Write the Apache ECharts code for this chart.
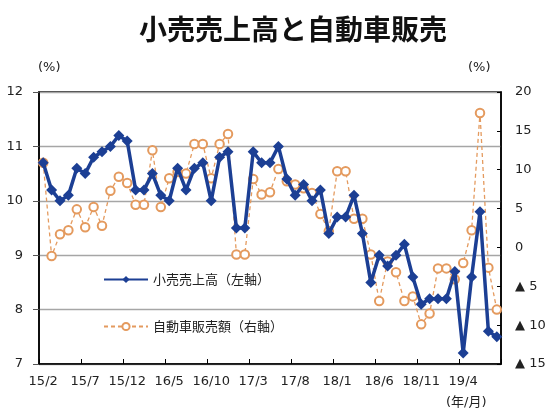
<!DOCTYPE html>
<html>
<head>
<meta charset="utf-8">
<script src="https://cdn.jsdelivr.net/npm/echarts@6/dist/echarts.min.js"></script>
<style>html,body{margin:0;padding:0;background:#fff;}#c{width:550px;height:414px;}</style>
</head>
<body>
<div id="c"></div>
<script>
const categories = [
  '15/2','15/3','15/4','15/5','15/6','15/7','15/8','15/9','15/10','15/11','15/12',
  '16/1','16/2','16/3','16/4','16/5','16/6','16/7','16/8','16/9','16/10','16/11','16/12',
  '17/1','17/2','17/3','17/4','17/5','17/6','17/7','17/8','17/9','17/10','17/11','17/12',
  '18/1','18/2','18/3','18/4','18/5','18/6','18/7','18/8','18/9','18/10','18/11','18/12',
  '19/1','19/2','19/3','19/4','19/5','19/6','19/7','19/8'
];
const retailSales = [
  10.7,10.2,10.0,10.1,10.6,10.5,10.8,10.9,11.0,11.2,11.1,
  10.2,10.2,10.5,10.1,10.0,10.6,10.2,10.6,10.7,10.0,10.8,10.9,
  9.5,9.5,10.9,10.7,10.7,11.0,10.4,10.1,10.3,10.0,10.2,9.4,
  9.7,9.7,10.1,9.4,8.5,9.0,8.8,9.0,9.2,8.6,8.1,8.2,
  8.2,8.2,8.7,7.2,8.6,9.8,7.6,7.5
];
const autoSales = [
  10.9,-1.1,1.7,2.2,4.9,2.6,5.2,2.8,7.3,9.1,8.3,
  5.5,5.5,12.5,5.2,8.9,9.7,9.5,13.3,13.3,8.9,13.3,14.6,
  -0.9,-0.9,8.8,6.8,7.1,10.1,8.5,8.1,7.6,7.0,4.3,2.1,
  9.8,9.8,3.7,3.7,-0.9,-6.9,-1.8,-3.2,-6.9,-6.3,-9.9,-8.5,
  -2.7,-2.7,-4.1,-2.0,2.2,17.3,-2.6,-8.0
];
const titleText = '小売売上高と自動車販売';
const seriesNames = ['小売売上高（左軸）', '自動車販売額（右軸）'];

const blue = '#1C3F94';
const orange = '#E49A5E';
const numFont = 'DejaVu Sans';
const cjkFont = 'Noto Sans CJK JP';

const chart = echarts.init(document.getElementById('c'), null, {renderer: 'canvas'});
chart.setOption({
  animation: false,
  backgroundColor: '#fff',
  title: {
    text: titleText,
    left: 134, top: 10,
    textStyle: {fontSize: 28, fontWeight: 'bold', fontFamily: cjkFont, color: '#111'}
  },
  graphic: [
    {type: 'text', left: 38, top: 61, style: {text: '(%)', font: '13px "DejaVu Sans"', fill: '#222'}},
    {type: 'text', left: 468, top: 61, style: {text: '(%)', font: '13px "DejaVu Sans"', fill: '#222'}},
    {type: 'text', left: 446, top: 396, style: {text: '(年/月)', font: '13px "DejaVu Sans", "Noto Sans CJK JP"', fill: '#222'}}
  ],
  legend: {
    orient: 'vertical',
    left: 98, top: 268,
    itemWidth: 44, itemHeight: 9, itemGap: 34,
    textStyle: {fontSize: 13, fontFamily: cjkFont, color: '#222'},
    data: seriesNames
  },
  grid: {left: 39, right: 49, top: 92, height: 272, show: true, borderColor: '#000', borderWidth: 1.5, backgroundColor: 'transparent'},
  xAxis: {
    type: 'category',
    data: categories,
    boundaryGap: true,
    axisLine: {onZero: false, lineStyle: {color: '#000', width: 1.5}},
    axisTick: {show: true, interval: 4, inside: true, length: 5, lineStyle: {color: '#000'}},
    axisLabel: {interval: 4, fontSize: 13, fontFamily: numFont, color: '#222', margin: 11}
  },
  yAxis: [
    {
      type: 'value', min: 7, max: 12, interval: 1, position: 'left',
      axisLine: {show: true, lineStyle: {color: '#000', width: 1.5}},
      axisTick: {show: true, length: 6, lineStyle: {color: '#555'}},
      axisLabel: {fontSize: 13, fontFamily: numFont, color: '#222', margin: 16},
      splitLine: {show: true, lineStyle: {color: '#A6A6A6', width: 1.3}}
    },
    {
      type: 'value', min: -15, max: 20, interval: 5, position: 'right',
      axisLine: {show: true, lineStyle: {color: '#000', width: 1.5}},
      axisTick: {show: true, inside: true, length: 4, lineStyle: {color: '#000'}},
      axisLabel: {
        fontSize: 13, fontFamily: numFont, color: '#222', margin: 14,
        formatter: v => v < 0 ? '▲ ' + Math.abs(v) : String(v)
      },
      splitLine: {show: false}
    }
  ],
  series: [
    {
      name: seriesNames[1], type: 'line', yAxisIndex: 1, data: autoSales,
      symbol: 'emptyCircle', symbolSize: 8.5, showAllSymbol: true,
      lineStyle: {color: orange, width: 1.3, type: [4, 3]},
      itemStyle: {color: orange, borderWidth: 0.9},
      z: 2
    },
    {
      name: seriesNames[0], type: 'line', yAxisIndex: 0, data: retailSales,
      symbol: 'diamond', symbolSize: 11, showAllSymbol: true,
      lineStyle: {color: blue, width: 3.5},
      itemStyle: {color: blue},
      z: 3
    }
  ]
});
</script>
</body>
</html>
